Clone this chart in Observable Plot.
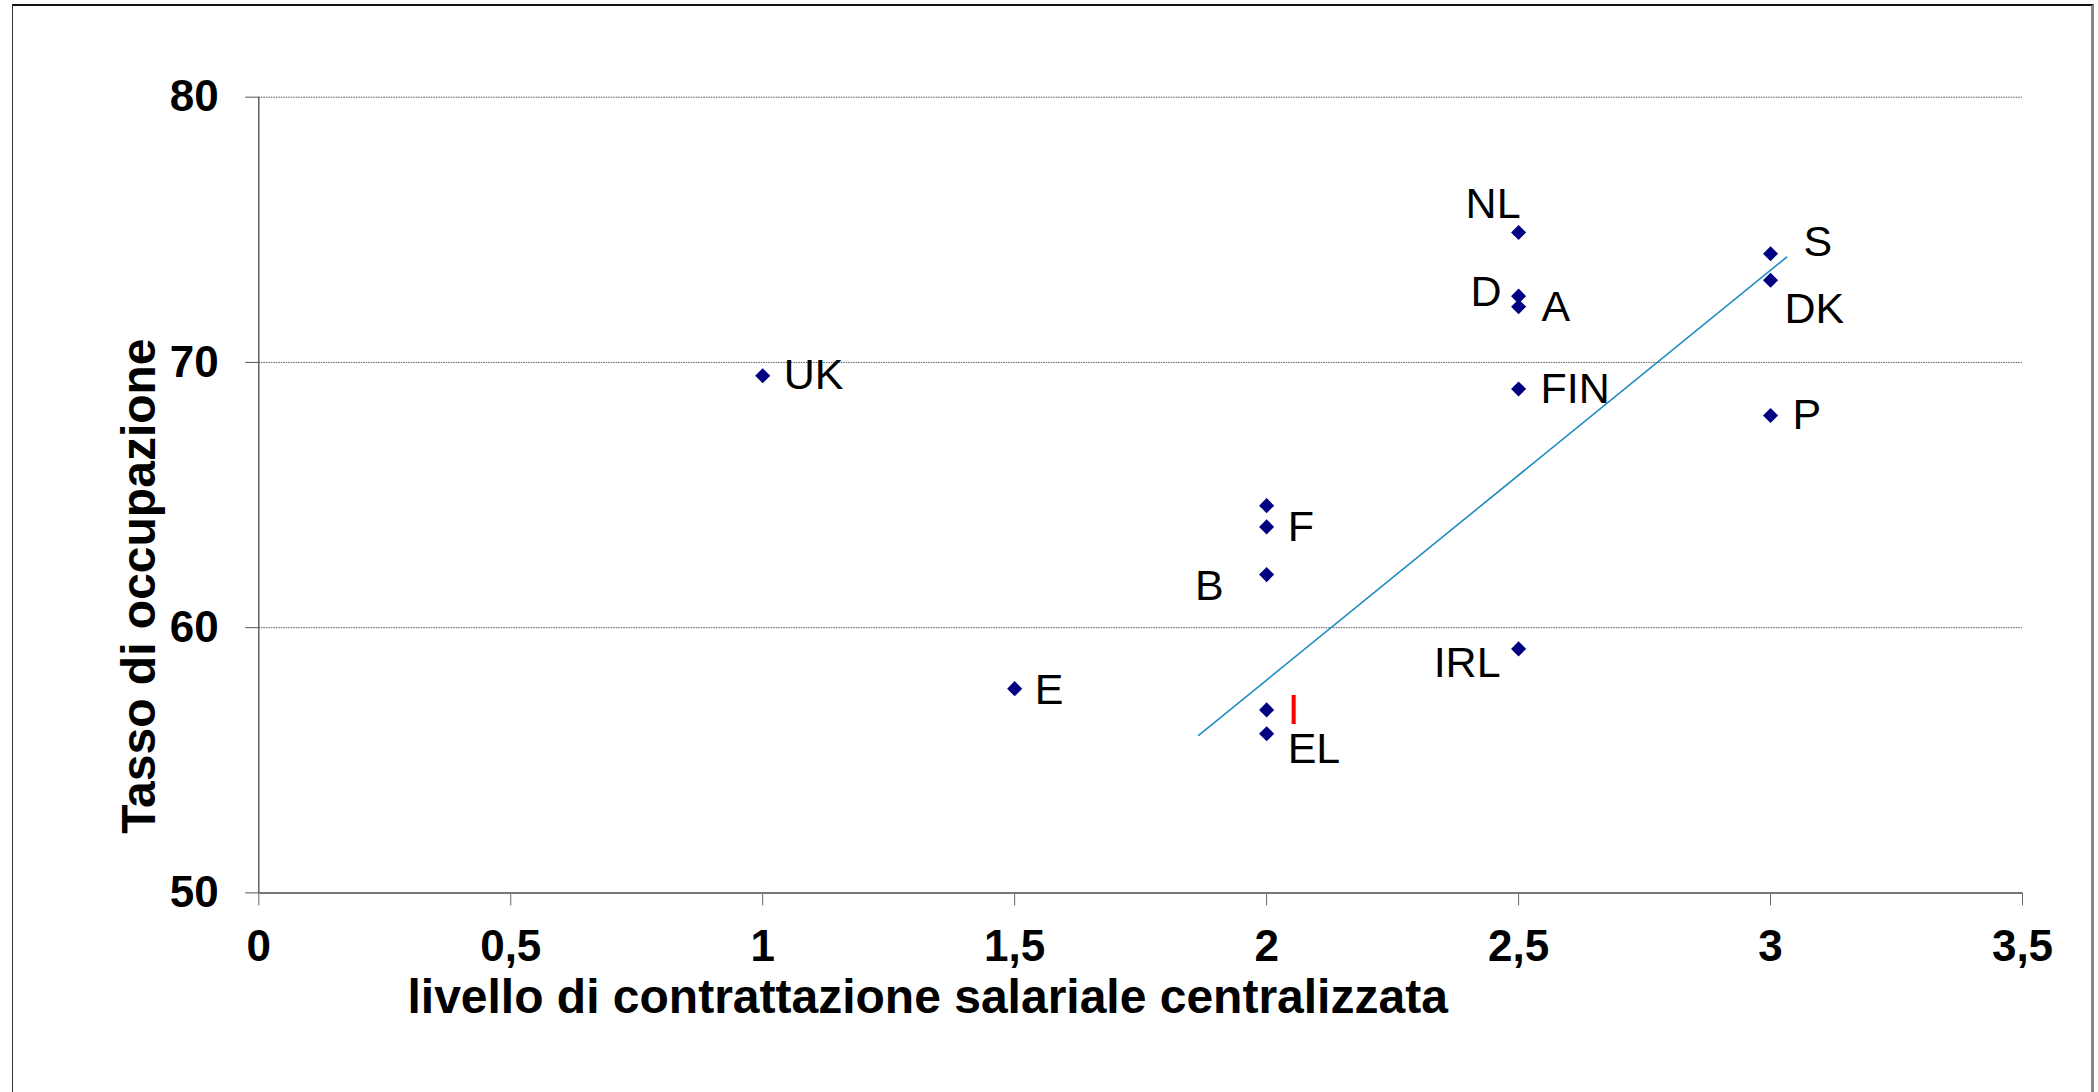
<!DOCTYPE html>
<html>
<head>
<meta charset="utf-8">
<script src="https://cdn.jsdelivr.net/npm/d3@7"></script>
<script src="https://cdn.jsdelivr.net/npm/@observablehq/plot@0.6"></script>
<style>
  html, body { margin: 0; padding: 0; background: #fff; overflow: hidden; }
  #wrap { position: relative; width: 2098px; height: 1092px; }
  #border { position: absolute; left: 12px; top: 4px; width: 2078px; height: 1200px;
            border-left: 1.5px solid #333; border-top: 2px solid #111; border-right: 3px solid #888; }
  #chart { position: absolute; left: 0; top: 0; }
</style>
</head>
<body>
<div id="wrap"><div id="border"></div><div id="chart"></div></div>
<script>
// ---- data ----
const labels = ["UK", "E", "", "F", "B", "I", "EL", "NL", "D", "A", "FIN", "IRL", "S", "DK", "P"];
const centralization = [1, 1.5, 2, 2, 2, 2, 2, 2.5, 2.5, 2.5, 2.5, 2.5, 3, 3, 3];
const employmentRate = [69.5, 57.7, 64.6, 63.8, 62.0, 56.9, 56.0, 74.9, 72.5, 72.1, 69.0, 59.2, 74.1, 73.1, 68.0];
const trendX = [1.865, 3.032];
const trendY = [55.94, 73.97];
const xTicks = [0, 0.5, 1, 1.5, 2, 2.5, 3, 3.5];
const yTicks = [50, 60, 70, 80];
const gridTicks = [60, 70, 80];
const xTitle = "livello di contrattazione salariale centralizzata";
const yTitle = "Tasso di occupazione";
const highlighted = "I";

// ---- build table ----
const points = labels.map((label, i) => ({label, x: centralization[i], y: employmentRate[i]}));
const trend = trendX.map((x, i) => ({x, y: trendY[i]}));

// label placement (annotation layout): [anchor, dx, dy]
const placement = {
  UK: ["start", 21, 0], E: ["start", 20, 2], F: ["start", 21, 0], B: ["end", -43, 12],
  I: ["start", 21, 0], EL: ["start", 21, 15], NL: ["end", 2, -28], D: ["end", -17, -4],
  A: ["start", 23, 1], FIN: ["start", 22, 0], IRL: ["end", -18, 14], S: ["start", 33, -11],
  DK: ["start", 14, 29], P: ["start", 22, 0]
};

const labelMarks = points.filter(d => d.label).map(d => {
  const [anchor, dx, dy] = placement[d.label];
  return Plot.text([d], {
    x: "x", y: "y", text: "label", textAnchor: anchor, dx, dy,
    fontSize: 43, fill: d.label === highlighted ? "#ff0000" : "#000"
  });
});

const fmt = d => String(d).replace(".", ",");

const chart = Plot.plot({
  width: 2098,
  height: 1092,
  marginLeft: 258.3,
  marginRight: 76,
  marginTop: 96.7,
  marginBottom: 199.6,
  style: {fontFamily: "'Liberation Sans', Arial, sans-serif", background: "transparent", color: "#000"},
  x: {domain: [0, 3.5]},
  y: {domain: [50, 80]},
  marks: [
    Plot.gridY(gridTicks, {stroke: "#555", strokeOpacity: 1, strokeWidth: 1, strokeDasharray: "1.5,1"}),
    Plot.axisX(xTicks, {tickSize: 13, tickPadding: 24, tickFormat: fmt, fontSize: 44, fontWeight: "bold",
      stroke: "#666", label: null}),
    Plot.axisY(yTicks, {tickSize: 13, tickPadding: 27, fontSize: 44, fontWeight: "bold",
      stroke: "#555", label: null}),
    Plot.ruleY([50], {stroke: "#777", strokeWidth: 2}),
    Plot.ruleX([0], {stroke: "#555", strokeWidth: 1.4}),
    Plot.line(trend, {x: "x", y: "y", stroke: "#1E8BC3", strokeWidth: 1.6}),
    Plot.dot(points, {x: "x", y: "y", symbol: "diamond2", r: 6.8, fill: "#000080", stroke: null}),
    ...labelMarks,
    Plot.text([xTitle], {frameAnchor: "bottom", lineAnchor: "middle", textAnchor: "middle",
      dx: -213, dy: 105, fontSize: 48, fontWeight: "bold", fill: "#000"}),
    Plot.text([yTitle], {frameAnchor: "left", lineAnchor: "middle", textAnchor: "middle", rotate: -90,
      dx: -119, dy: 91, fontSize: 48, fontWeight: "bold", fill: "#000"})
  ]
});
document.getElementById("chart").appendChild(chart);
</script>
</body>
</html>
